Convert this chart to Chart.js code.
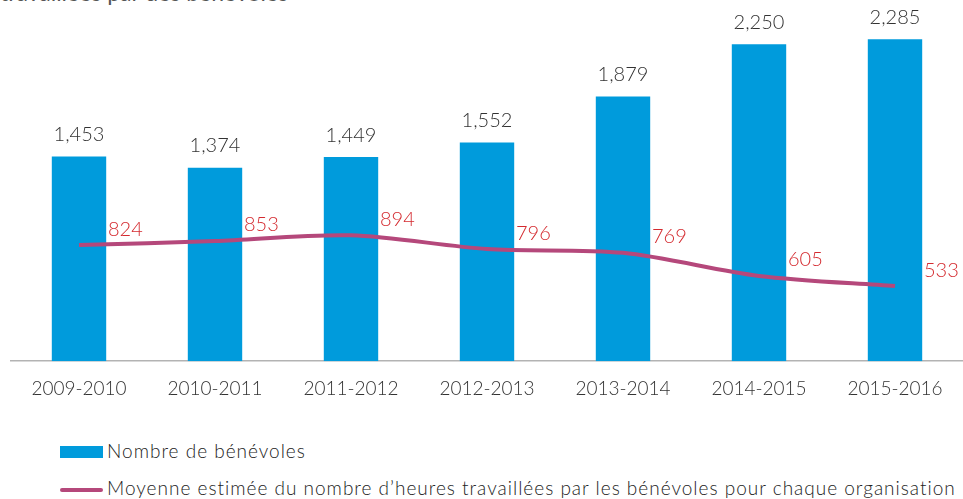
<!DOCTYPE html>
<html>
<head>
<meta charset="utf-8">
<script src="https://cdn.jsdelivr.net/npm/chart.js@4.4.1/dist/chart.umd.min.js"></script>
<style>
  html, body { margin: 0; padding: 0; background: #fff; overflow: hidden; }
  body { width: 963px; height: 499px; position: relative; font-family: Lato, "Open Sans", sans-serif; }
  #title { position: absolute; left: 0; top: -21px; font-size: 23px; line-height: 27px; color: #555; white-space: nowrap; }
  #wrap { position: absolute; left: 0; top: 0; width: 963px; height: 408px; }
  #legend { position: absolute; left: 0; top: 436px; width: 963px; }
  .item { position: absolute; left: 60px; height: 30px; white-space: nowrap; font-size: 19px; font-weight: 300; color: #222; letter-spacing: 1px; }
  .item span.sw { position: absolute; left: 0; }
  .item span.tx { position: absolute; left: 47px; top: 3px; }
</style>
</head>
<body>
<div id="title">travaillées par des bénévoles</div>
<div id="wrap"><canvas id="myChart"></canvas></div>
<div id="legend"></div>
<script>
const categories = ['2009-2010', '2010-2011', '2011-2012', '2012-2013', '2013-2014', '2014-2015', '2015-2016'];
const volunteers = [1453, 1374, 1449, 1552, 1879, 2250, 2285];
const avgHours = [824, 853, 894, 796, 769, 605, 533];

const barLabel = 'Nombre de bénévoles';
const lineLabel = 'Moyenne estimée du nombre d\u2019heures travaillées par les bénévoles pour chaque organisation';

const blue = '#009bdc';
const plum = '#b5487b';

// value labels above bars and beside the line points
const valueLabels = {
  id: 'valueLabels',
  afterDatasetsDraw(chart) {
    const ctx = chart.ctx;
    ctx.save();
    ctx.textBaseline = 'middle';
    chart.data.datasets.forEach((ds, i) => {
      const meta = chart.getDatasetMeta(i);
      meta.data.forEach((el, j) => {
        const txt = ds.data[j].toLocaleString('en-US');
        ctx.font = '300 20px Lato';
        if (ds.type === 'bar') {
          ctx.fillStyle = '#333';
          ctx.textAlign = 'center';
          ctx.fillText(txt, el.x, el.y - 22);
        } else {
          ctx.fillStyle = '#d42a2f';
          ctx.textAlign = 'left';
          ctx.fillText(txt, el.x + 29, el.y - 16);
        }
      });
    });
    ctx.restore();
  }
};

const chart = new Chart('myChart', {
  data: {
    labels: categories,
    datasets: [
      {
        type: 'line',
        label: lineLabel,
        data: avgHours,
        borderColor: plum,
        borderWidth: 4,
        pointRadius: 0,
        tension: 0.3,
        fill: false,
        order: 0
      },
      {
        type: 'bar',
        label: barLabel,
        data: volunteers,
        backgroundColor: blue,
        barPercentage: 0.4,
        categoryPercentage: 1,
        order: 1
      }
    ]
  },
  options: {
    responsive: true,
    maintainAspectRatio: false,
    animation: false,
    layout: { padding: { left: 11, right: 0, top: 9, bottom: 0 } },
    plugins: {
      legend: { display: false },
      tooltip: { enabled: false }
    },
    scales: {
      x: {
        grid: { display: false },
        border: { display: true, color: '#b3b3b3', width: 1.5 },
        ticks: { color: '#333', padding: 8, font: { family: 'Lato', size: 19, weight: 300 } }
      },
      y: {
        display: false,
        min: 0,
        max: 2500
      }
    }
  },
  plugins: [valueLabels]
});

// legend built from the chart's datasets
const legend = document.getElementById('legend');
[chart.data.datasets[1], chart.data.datasets[0]].forEach((ds, k) => {
  const item = document.createElement('div');
  item.className = 'item';
  item.style.top = (k * 37) + 'px';
  const sw = document.createElement('span');
  sw.className = 'sw';
  if (ds.type === 'bar') {
    sw.style.cssText = 'top:10px;width:43px;height:12px;background:' + ds.backgroundColor;
  } else {
    sw.style.cssText = 'top:15px;width:43px;height:4px;border-radius:2px;background:' + ds.borderColor;
  }
  const tx = document.createElement('span');
  tx.className = 'tx';
  tx.textContent = ds.label;
  item.appendChild(sw);
  item.appendChild(tx);
  legend.appendChild(item);
});
</script>
</body>
</html>
